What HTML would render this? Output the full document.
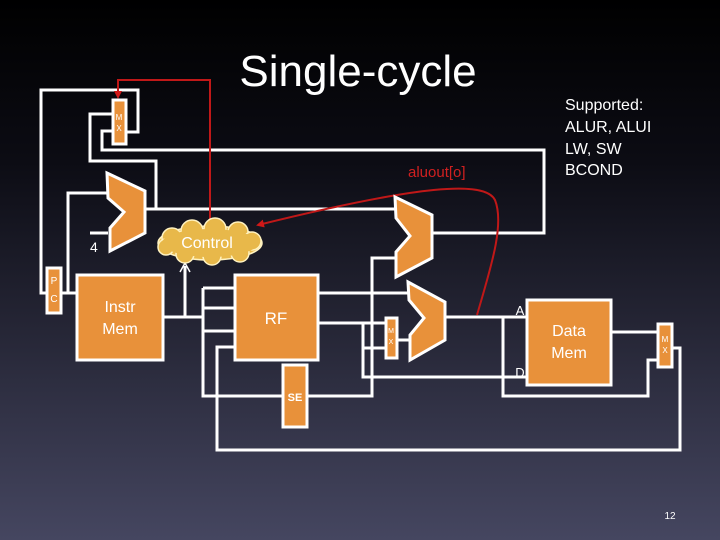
<!DOCTYPE html>
<html><head><style>
html,body{margin:0;padding:0;width:720px;height:540px;overflow:hidden}
svg{display:block}
</style></head><body>
<svg width="720" height="540" viewBox="0 0 720 540" xmlns="http://www.w3.org/2000/svg">
<defs>
<linearGradient id="bg" x1="0" y1="0" x2="0" y2="1">
<stop offset="0" stop-color="#000000"/>
<stop offset="0.3" stop-color="#0c0c14"/>
<stop offset="1" stop-color="#454660"/>
</linearGradient>
<marker id="ar" markerWidth="8" markerHeight="8" refX="6" refY="4" orient="auto" markerUnits="userSpaceOnUse">
<path d="M0,0 L8,4 L0,8 z" fill="#d01818"/>
</marker>
</defs>
<rect width="720" height="540" fill="url(#bg)"/>
<text x="358" y="86" font-family="Liberation Sans, sans-serif" font-size="44" fill="#fff" text-anchor="middle">Single-cycle</text>
<g font-family="Liberation Sans, sans-serif" font-size="16" fill="#fff">
<text x="565" y="110">Supported:</text>
<text x="565" y="132">ALUR, ALUI</text>
<text x="565" y="154">LW, SW</text>
<text x="565" y="175">BCOND</text>
</g>
<text x="408" y="177" font-family="Liberation Sans, sans-serif" font-size="15" fill="#d02020">aluout[o]</text>

<g fill="none" stroke="#fff" stroke-width="3">
<!-- PC loop -->
<polyline points="47,293 41,293 41,90 138,90 138,132 126,132"/>
<polyline points="113,114 90,114 90,161 156,161 156,209"/>
<polyline points="113,131 102,131 102,150 544,150 544,233 432,233"/>
<polyline points="145,209 395,209"/>
<polyline points="61,293 77,293"/>
<polyline points="68,293 68,193 108,193"/>
<polyline points="90,233 108,233"/>
<!-- instr mem out -->
<polyline points="163,317 203,317"/>
<polyline points="185,317 185,266"/>
<polyline points="203,288 203,396 283,396"/>
<polyline points="203,288 235,288"/>
<polyline points="203,308 235,308"/>
<polyline points="203,331 235,331"/>
<polyline points="235,347 217,347 217,450 680,450 680,348 672,348"/>
<polyline points="307,396 372,396 372,258 396,258"/>
<!-- RF outputs -->
<polyline points="318,293 408,293"/>
<polyline points="318,323 386,323"/>
<polyline points="363,323 363,377 527,377"/>
<polyline points="363,348 386,348"/>
<polyline points="397,340 410,340"/>
<!-- ALU output -->
<polyline points="445,317 527,317"/>
<polyline points="503,317 503,396 648,396 648,360 658,360"/>
<polyline points="611,332 658,332"/>
</g>
<!-- control input arrow -->
<path d="M180,272 L185,263 L190,272" fill="none" stroke="#fff" stroke-width="1.5"/>

<!-- red wires -->
<polyline points="210,229 210,80 118,80 118,97" fill="none" stroke="#c01818" stroke-width="2" marker-end="url(#ar)"/>
<path d="M477,315 C490,270 505,225 495,200 C485,180 420,185 258,225" fill="none" stroke="#c01818" stroke-width="2" marker-end="url(#ar)"/>

<g fill="#e8913a" stroke="#fff" stroke-width="3">
<rect x="113" y="100" width="13" height="44"/>
<rect x="47" y="268" width="14" height="45"/>
<rect x="77" y="275" width="86" height="85"/>
<rect x="235" y="275" width="83" height="85"/>
<rect x="283" y="365" width="24" height="62"/>
<rect x="386" y="318" width="11" height="40"/>
<rect x="527" y="300" width="84" height="85"/>
<rect x="658" y="324" width="14" height="43"/>
<polygon points="107,173 145,191 145,233 110,251 110,228 124,212 108,198"/>
<polygon points="395,197 432,215 432,258 396,277 396,252 410,236 396,218"/>
<polygon points="408,282 445,302 445,340 410,360 410,335 424,318 409,300"/>
</g>
<!-- control cloud -->
<g fill="#e8b84a" stroke="#fff2c0" stroke-width="1.5">
<ellipse cx="210" cy="243" rx="52" ry="17"/>
<circle cx="172" cy="238" r="10"/><circle cx="192" cy="231" r="11"/><circle cx="215" cy="229" r="11"/>
<circle cx="238" cy="232" r="10"/><circle cx="252" cy="241" r="9"/><circle cx="240" cy="253" r="9"/>
<circle cx="212" cy="256" r="9"/><circle cx="185" cy="254" r="9"/><circle cx="166" cy="247" r="8"/>
</g>
<ellipse cx="210" cy="243" rx="48" ry="14" fill="#e8b84a"/>
<text x="207" y="248" font-family="Liberation Sans, sans-serif" font-size="16" fill="#fff" text-anchor="middle">Control</text>

<g font-family="Liberation Sans, sans-serif" fill="#fff" text-anchor="middle">
<text x="120" y="312" font-size="16">Instr</text>
<text x="120" y="334" font-size="16">Mem</text>
<text x="276" y="324" font-size="17">RF</text>
<text x="569" y="336" font-size="16">Data</text>
<text x="569" y="358" font-size="16">Mem</text>
<text x="295" y="401" font-size="11" font-weight="bold">SE</text>
<text x="90" y="252" font-size="14" text-anchor="start">4</text>
<text x="54" y="284" font-size="10">P</text>
<text x="54" y="302" font-size="10">C</text>
<text x="119" y="120" font-size="8">M</text>
<text x="119" y="131" font-size="8">X</text>
<text x="391" y="333" font-size="7">M</text>
<text x="391" y="344" font-size="7">X</text>
<text x="665" y="342" font-size="8">M</text>
<text x="665" y="353" font-size="8">X</text>
<text x="520" y="315" font-size="13">A</text>
<text x="520" y="377" font-size="13">D</text>
<text x="670" y="519" font-size="10">12</text>
</g>
</svg>
</body></html>
